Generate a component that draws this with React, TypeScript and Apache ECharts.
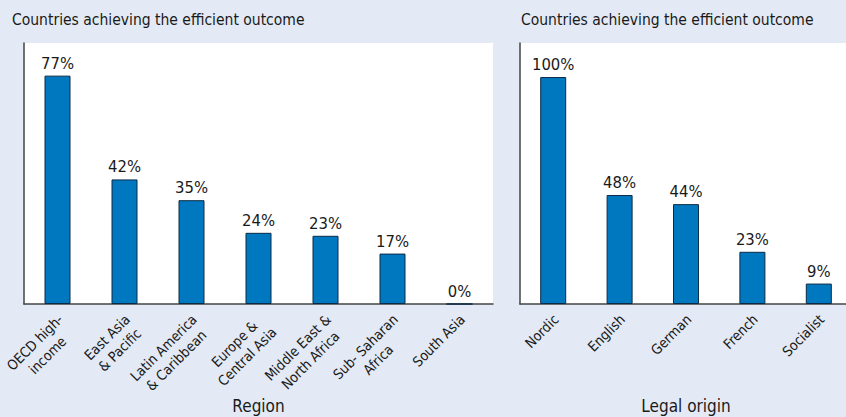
import React, { useEffect, useRef } from "react";
import * as echarts from "echarts";

const panelTitle = "Countries achieving the efficient outcome";

const regionCategories = [
  "OECD high-\nincome",
  "East Asia\n& Pacific",
  "Latin America\n& Caribbean",
  "Europe &\nCentral Asia",
  "Middle East &\nNorth Africa",
  "Sub- Saharan\nAfrica",
  "South Asia",
];
const regionValues = [77, 42, 35, 24, 23, 17, 0];

const legalCategories = ["Nordic", "English", "German", "French", "Socialist"];
const legalValues = [100, 48, 44, 23, 9];

const FONT = "'DejaVu Sans Condensed', 'Noto Sans', sans-serif";
const TEXT = "#1a1a1a";
const BG = "#e3eaf5";
const BAR = "#0078c0";
const BAR_BORDER = "#0b2a45";
const AXIS = "#444";

export default function App() {
  const ref = useRef<HTMLDivElement>(null);
  useEffect(() => {
    if (!ref.current) return;
    const chart = echarts.init(ref.current, undefined, { renderer: "svg" });
    const xAxisBase = (data: string[], name: string, gridIndex: number) => ({
      gridIndex,
      type: "category",
      data,
      axisLine: { show: true, lineStyle: { color: AXIS, width: 1.5 } },
      axisTick: { show: false },
      axisLabel: {
        rotate: 45,
        interval: 0,
        margin: 3,
        align: "right",
        verticalAlign: "top",
        padding: [0, 5, 0, 0],
        formatter: (v: string) =>
          v
            .split("\n")
            .map((s) => "{c|" + s + "}")
            .join("\n"),
        rich: {
          c: {
            align: "center",
            fontSize: 14,
            lineHeight: 18,
            color: TEXT,
            fontFamily: FONT,
          },
        },
        color: TEXT,
        fontFamily: FONT,
      },
      name,
      nameLocation: "middle",
      nameGap: 93,
      nameMoveOverlap: false,
      nameTextStyle: { fontSize: 17, color: TEXT, fontFamily: FONT },
    });
    const yAxisBase = (max: number, gridIndex: number) => ({
      gridIndex,
      type: "value",
      min: 0,
      max,
      splitLine: { show: false },
      axisLabel: { show: false },
      axisTick: { show: false },
      axisLine: { show: true, lineStyle: { color: AXIS, width: 1.5 } },
    });
    const barSeries = (data: number[], idx: number) => ({
      type: "bar",
      xAxisIndex: idx,
      yAxisIndex: idx,
      data,
      barWidth: 26,
      itemStyle: { color: BAR, borderColor: BAR_BORDER, borderWidth: 1 },
      label: {
        show: true,
        position: "top",
        distance: 4,
        formatter: "{c}%",
        fontSize: 16.5,
        color: TEXT,
        fontFamily: FONT,
      },
    });
    const titleStyle = { fontSize: 15.5, fontWeight: "normal", color: TEXT, fontFamily: FONT };
    chart.setOption({
      animation: false,
      backgroundColor: BG,
      textStyle: { fontFamily: FONT },
      title: [
        { text: panelTitle, left: 7, top: 7, textStyle: titleStyle },
        { text: panelTitle, left: 516, top: 7, textStyle: titleStyle },
      ],
      grid: [
        {
          left: 24, top: 43, width: 469, height: 261,
          show: true, backgroundColor: "#fff", borderWidth: 0,
          outerBoundsMode: "none", containLabel: false,
        },
        {
          left: 520, top: 43, width: 332, height: 261,
          show: true, backgroundColor: "#fff", borderWidth: 0,
          outerBoundsMode: "none", containLabel: false,
        },
      ],
      xAxis: [
        xAxisBase(regionCategories, "Region", 0),
        xAxisBase(legalCategories, "Legal origin", 1),
      ],
      yAxis: [yAxisBase(88, 0), yAxisBase(115, 1)],
      series: [barSeries(regionValues, 0), barSeries(legalValues, 1)],
    });
    return () => chart.dispose();
  }, []);
  return (
    <div
      ref={ref}
      style={{ position: "fixed", left: 0, top: 0, width: 846, height: 417 }}
    />
  );
}
